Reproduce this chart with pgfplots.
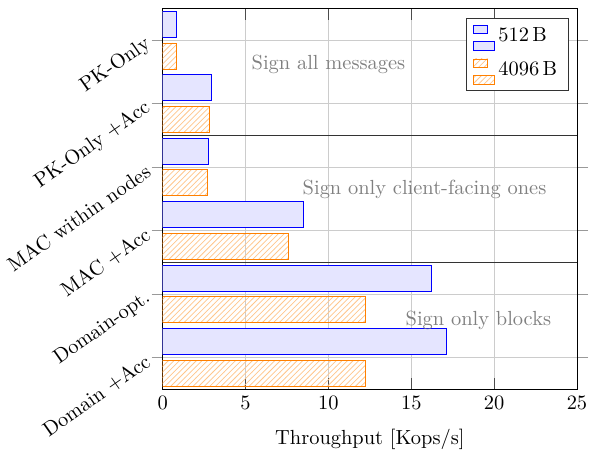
\documentclass[border=0pt,11pt]{standalone}
\usepackage{pgfplots}
\pgfplotsset{compat=1.18}
\usetikzlibrary{patterns}
\begin{document}
\begin{tikzpicture}
\begin{axis}[
  name=main,
  scale only axis,
  width=222pt, height=204pt,
  xbar,
  xmin=0, xmax=25,
  ymin=-0.5, ymax=5.5,
  xtick={0,5,10,15,20,25},
  ytick={0,1,2,3,4,5},
  yticklabels={Domain +Acc, Domain-opt., MAC +Acc, MAC within nodes, PK-Only +Acc, PK-Only},
  yticklabel style={rotate=35, anchor=east, inner sep=2pt},
  major tick length=6pt,
  y tick style={gray!80, thin},
  x tick style={black!70, thin},
  ytick align=outside, ytick pos=both,
  xtick align=inside, xtick pos=both,
  grid=major,
  major grid style={gray!40},
  extra y ticks={1.5,3.5},
  extra y tick labels={},
  extra y tick style={grid=major, major grid style={black!80, thin}, tick style={draw=none}},
  xlabel={Throughput [Kops/s]},
  xlabel style={yshift=-3pt},
  bar width=0.41,
  legend style={at={(0.98,0.975)}, anchor=north east, draw=black!80, row sep=4pt, inner xsep=4pt, inner ysep=3pt},
  legend cell align=left,
  legend image code/.code={
    \draw[#1,bar shift=0pt] (0pt,1.5pt) rectangle (7.5pt,6pt);
    \draw[#1,bar shift=0pt] (0pt,-7.5pt) rectangle (11pt,-3pt);
  },
]
\addplot[draw=blue, fill=blue!10, bar shift=0.25] coordinates {
  (17.12,0) (16.19,1) (8.46,2) (2.76,3) (2.94,4) (0.85,5)
};
\addplot[draw=orange, pattern=north east lines, pattern color=orange!45, bar shift=-0.25] coordinates {
  (12.21,0) (12.21,1) (7.59,2) (2.70,3) (2.84,4) (0.80,5)
};
\legend{512\,B, 4096\,B}
\node[gray] at (axis cs:10.0,4.61) {Sign all messages};
\node[gray] at (axis cs:15.8,2.64) {Sign only client-facing ones};
\node[gray] at (axis cs:19.05,0.59) {Sign only blocks};
\end{axis}
\path (main.north east) ++(0,4.5pt) (main.south west) ++(0,-34pt);
\end{tikzpicture}
\end{document}
